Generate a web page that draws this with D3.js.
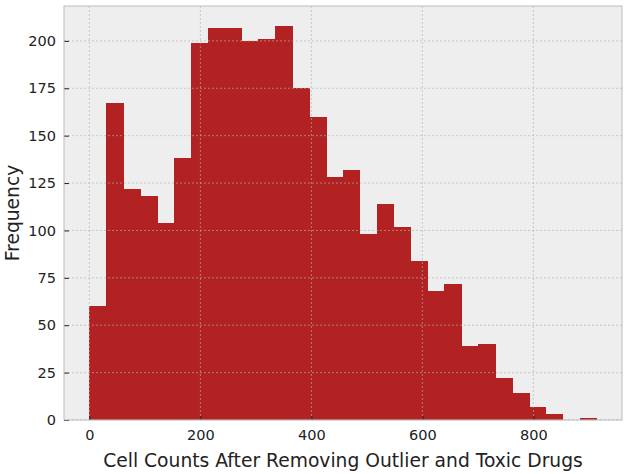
<!DOCTYPE html>
<meta charset="utf-8">
<style>
    body { margin: 0; background: #fff; }
    text { font-family: "DejaVu Sans", sans-serif; fill: #222; }
    .grid line { stroke: #b2b2b2; stroke-dasharray: 2,2; stroke-width: 0.8; stroke-opacity: 0.8; }
</style>
<svg></svg>
<script src="https://d3js.org/d3.v7.min.js"></script>
<script>

    // histogram bins: 30 bins of equal width from 0 to ~914
    var binStart = 0,
        binEnd = 914;
    var counts = [60, 167, 122, 118, 104, 138, 199, 207, 207, 200,
                  201, 208, 175, 160, 128, 132, 98, 114, 102, 84,
                  68, 72, 39, 40, 22, 14, 7, 3, 0, 1];
    var xTicks = [0, 200, 400, 600, 800];
    var yTicks = [0, 25, 50, 75, 100, 125, 150, 175, 200];

    var width = 629,
        height = 474;
    var mLeft = 64, mRight = 622, mTop = 6, mBottom = 420;

    var svg = d3.select("svg")
        .attr("width", width)
        .attr("height", height);

    var binW = (binEnd - binStart) / counts.length;
    var data = counts.map(function (c, i) {
        return { x0: binStart + i * binW, x1: binStart + (i + 1) * binW, n: c };
    });

    // matplotlib style 5% margins on x, top margin on y
    var span = binEnd - binStart;
    var x = d3.scaleLinear()
        .domain([binStart - span * 0.05, binEnd + span * 0.05])
        .range([mLeft, mRight]);
    var yMax = d3.max(counts) * 1.05;
    var y = d3.scaleLinear()
        .domain([0, yMax])
        .range([mBottom, mTop]);

    svg.append("rect")
        .attr("x", mLeft).attr("y", mTop)
        .attr("width", mRight - mLeft).attr("height", mBottom - mTop)
        .attr("fill", "#eeeeee");

    svg.append("g").selectAll("rect")
        .data(data)
        .enter().append("rect")
        .attr("x", function (d) { return x(d.x0); })
        .attr("width", function (d) { return x(d.x1) - x(d.x0) + 0.5; })
        .attr("y", function (d) { return y(d.n); })
        .attr("height", function (d) { return mBottom - y(d.n); })
        .attr("fill", "#b22222")
        .attr("shape-rendering", "crispEdges");

    // grid drawn over the bars, like the reference
    var grid = svg.append("g").attr("class", "grid");
    grid.selectAll(".gx").data(xTicks).enter().append("line")
        .attr("x1", function (d) { return x(d); })
        .attr("x2", function (d) { return x(d); })
        .attr("y1", mTop).attr("y2", mBottom);
    grid.selectAll(".gy").data(yTicks).enter().append("line")
        .attr("x1", mLeft).attr("x2", mRight)
        .attr("y1", function (d) { return y(d); })
        .attr("y2", function (d) { return y(d); });

    // axes with inward ticks
    var xAxis = svg.append("g")
        .attr("transform", "translate(0," + mBottom + ")")
        .call(d3.axisBottom(x).tickValues(xTicks).tickSize(-4).tickPadding(10));
    var yAxis = svg.append("g")
        .attr("transform", "translate(" + mLeft + ",0)")
        .call(d3.axisLeft(y).tickValues(yTicks).tickSize(-5).tickPadding(8));

    [xAxis, yAxis].forEach(function (a) {
        a.select(".domain").remove();
        a.selectAll(".tick line").attr("stroke", "#222").attr("stroke-width", 1);
        a.selectAll(".tick text").style("font-size", "14.5px").attr("fill", "#222");
    });

    svg.append("rect")
        .attr("x", mLeft).attr("y", mTop)
        .attr("width", mRight - mLeft).attr("height", mBottom - mTop)
        .attr("fill", "none")
        .attr("stroke", "#bcbcbc")
        .attr("stroke-width", 1);

    svg.append("text")
        .attr("x", (mLeft + mRight) / 2)
        .attr("y", 467)
        .attr("text-anchor", "middle")
        .style("font-size", "18.7px")
        .text("Cell Counts After Removing Outlier and Toxic Drugs");

    svg.append("text")
        .attr("transform", "translate(19," + (mTop + mBottom) / 2 + ") rotate(-90)")
        .attr("text-anchor", "middle")
        .style("font-size", "18.7px")
        .text("Frequency");

</script>
